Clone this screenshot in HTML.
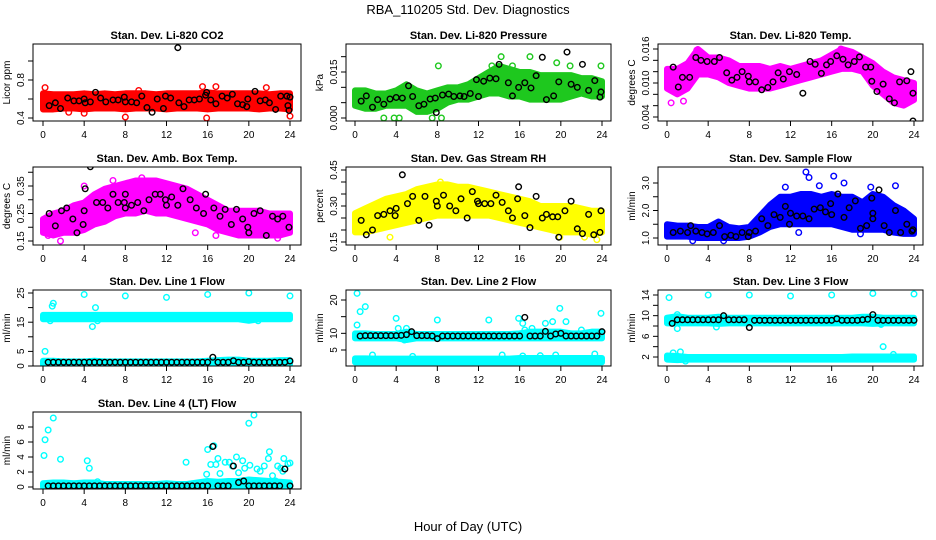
<!DOCTYPE html>
<html><head><meta charset="utf-8"><style>
body{margin:0;background:#fff}
svg{display:block;font-family:"Liberation Sans",Arial,sans-serif}
</style></head><body>
<svg id="c" width="936" height="540" viewBox="0 0 936 540">
<text x="468" y="14" text-anchor="middle" font-size="13">RBA_110205  Std. Dev. Diagnostics</text>
<text x="468" y="531" text-anchor="middle" font-size="13">Hour of Day (UTC)</text>
</svg>
<script>
const bandHours=[0,1,2,3,4,5,6,7,8,9,10,11,12,13,14,15,16,17,18,19,20,21,22,23,24];
const lineTimes=[0.5,1,1.5,2,2.5,3,3.5,4,4.5,5,5.5,6,6.5,7,7.5,8,8.5,9,9.5,10,10.5,11,11.5,12,12.5,13,13.5,14,14.5,15,15.5,16,16.5,17,17.5,18,18.5,19,19.5,20,20.5,21,21.5,22,22.5,23,23.5,24];
const xTicks=[0,4,8,12,16,20,24];

const co2Low=[0.49,0.49,0.5,0.5,0.49,0.5,0.5,0.5,0.49,0.5,0.5,0.5,0.49,0.5,0.5,0.5,0.49,0.5,0.5,0.5,0.5,0.49,0.5,0.5,0.49];
const co2High=[0.66,0.65,0.65,0.65,0.66,0.65,0.66,0.65,0.66,0.66,0.66,0.65,0.66,0.66,0.66,0.66,0.67,0.66,0.66,0.66,0.66,0.66,0.65,0.66,0.66];
const co2Out=[[0.2,0.72],[8,0.41],[15.9,0.4],[24,0.42],[15.5,0.73],[16.8,0.73],[2.5,0.46],[4,0.45],[21.7,0.72],[9.3,0.69]];
const co2Black=[[13.1,1.14],[0.6,0.53],[1.2,0.56],[1.7,0.5],[2.4,0.61],[3,0.58],[3.5,0.58],[4,0.6],[4.1,0.56],[4.6,0.57],[5.1,0.67],[5.6,0.61],[6.1,0.57],[6.8,0.59],[7.3,0.59],[7.9,0.62],[8,0.57],[8.6,0.57],[9.1,0.56],[9.6,0.63],[10.1,0.51],[10.6,0.46],[11.1,0.6],[11.7,0.5],[11.9,0.63],[12.4,0.61],[13.2,0.56],[13.7,0.52],[14.2,0.59],[14.7,0.59],[15.2,0.6],[15.8,0.64],[15.9,0.67],[16.3,0.59],[16.8,0.55],[17.4,0.63],[17.9,0.61],[18.4,0.65],[18.9,0.55],[19.4,0.54],[19.8,0.52],[19.9,0.6],[20.6,0.68],[21.1,0.58],[21.6,0.59],[22,0.56],[22.6,0.49],[23.1,0.63],[23.7,0.63],[23.8,0.53],[23.9,0.48],[24,0.62]];

const presLow=[0.004,0.003,0.003,0.004,0.004,0.004,0.002,0.002,0.003,0.005,0.006,0.006,0.007,0.008,0.008,0.007,0.007,0.006,0.006,0.006,0.006,0.007,0.008,0.007,0.007];
const presHigh=[0.009,0.009,0.008,0.008,0.009,0.011,0.009,0.008,0.009,0.01,0.01,0.011,0.013,0.015,0.017,0.016,0.015,0.015,0.014,0.014,0.014,0.014,0.013,0.013,0.012];
const presOut=[[2.8,0],[3.8,0],[4.3,0],[7.5,0],[8.4,0],[8.1,0.017],[14.2,0.02],[17,0.02],[19.6,0.018],[20.9,0.017],[23.9,0.017],[13.3,0.017],[15.3,0.017]];
const presBlack=[[0.6,0.0055],[1.1,0.0072],[1.7,0.0035],[2.2,0.006],[2.8,0.0045],[3.4,0.0062],[4,0.0067],[4.6,0.0065],[5.2,0.0105],[5.6,0.007],[6.2,0.004],[6.7,0.0045],[7.3,0.0062],[7.8,0.0065],[7.9,0.0018],[8.5,0.0075],[9.1,0.0078],[9.6,0.007],[10.2,0.0072],[10.6,0.007],[11.2,0.008],[11.8,0.0125],[12,0.007],[12.5,0.012],[13.1,0.013],[13.7,0.0128],[14,0.0175],[14.9,0.0115],[15.3,0.0072],[15.9,0.01],[16.5,0.0115],[17.1,0.0098],[17.6,0.0138],[18.2,0.0198],[18.6,0.006],[19.3,0.0072],[19.8,0.0118],[20.6,0.0215],[21,0.011],[21.6,0.01],[22.1,0.0175],[22.7,0.009],[23.3,0.0122],[23.8,0.0068],[23.9,0.0085]];

const tempLow=[0.009,0.008,0.009,0.0115,0.0115,0.011,0.01,0.0095,0.009,0.009,0.009,0.0095,0.01,0.0105,0.011,0.0115,0.012,0.0125,0.0125,0.012,0.0095,0.008,0.0065,0.006,0.007];
const tempHigh=[0.0125,0.0125,0.0135,0.016,0.0145,0.0145,0.014,0.013,0.013,0.013,0.0125,0.013,0.0125,0.013,0.0135,0.014,0.015,0.016,0.0155,0.0145,0.0135,0.012,0.011,0.0105,0.01];
const tempOut=[[0.4,0.0065],[1.6,0.0068],[2.9,0.0158],[16.9,0.016]];
const tempBlack=[[0.6,0.0128],[1.1,0.0093],[1.5,0.011],[2.2,0.011],[2.8,0.0145],[3.3,0.014],[3.9,0.0138],[4.6,0.0138],[5.1,0.0145],[5.8,0.0118],[6.3,0.0105],[6.8,0.011],[7.3,0.012],[7.9,0.0112],[8,0.0102],[8.6,0.0102],[9.2,0.0088],[9.8,0.0092],[10.3,0.0102],[10.8,0.0118],[11.3,0.0107],[11.9,0.012],[12.6,0.0115],[13.2,0.0082],[13.9,0.0138],[14.4,0.0133],[15,0.0117],[15.5,0.0132],[15.9,0.0138],[16.5,0.0148],[17.1,0.0142],[17.6,0.0132],[18.2,0.0138],[18.7,0.0146],[19.3,0.0128],[19.8,0.0128],[19.9,0.0103],[20.4,0.0085],[21,0.0098],[21.6,0.0072],[22.1,0.0065],[22.6,0.0102],[23.3,0.0104],[23.7,0.012],[23.9,0.0082],[23.9,0.0033],[23.8,0.0015]];

const boxLow=[0.18,0.17,0.18,0.18,0.19,0.21,0.22,0.24,0.25,0.25,0.26,0.25,0.25,0.24,0.23,0.22,0.21,0.19,0.18,0.17,0.17,0.17,0.17,0.17,0.18];
const boxHigh=[0.23,0.25,0.26,0.28,0.29,0.32,0.34,0.35,0.36,0.37,0.37,0.37,0.36,0.35,0.34,0.32,0.3,0.28,0.26,0.26,0.26,0.26,0.25,0.25,0.25];
const boxOut=[[1.7,0.15],[4,0.35],[0.5,0.17],[6.8,0.37],[9.6,0.38],[14.8,0.18],[16.8,0.17],[22.8,0.16]];
const boxBlack=[[0.6,0.25],[1.2,0.205],[1.8,0.26],[2.3,0.27],[2.9,0.23],[3.3,0.18],[3.9,0.21],[4,0.26],[4.1,0.34],[4.6,0.42],[5.2,0.29],[5.8,0.29],[6.3,0.27],[6.8,0.32],[7.3,0.29],[7.9,0.29],[8,0.32],[8,0.27],[8.6,0.28],[9.2,0.29],[9.8,0.26],[10.3,0.3],[10.9,0.32],[11.4,0.32],[11.9,0.3],[12,0.28],[12.5,0.31],[13.1,0.28],[13.6,0.34],[14.3,0.3],[14.9,0.27],[15.6,0.25],[15.8,0.32],[16.6,0.27],[17.2,0.24],[17.7,0.265],[18.3,0.21],[18.8,0.265],[19.4,0.23],[19.9,0.2],[20,0.18],[20.5,0.25],[21.1,0.26],[21.7,0.17],[22.3,0.24],[22.8,0.23],[23.3,0.24],[23.9,0.2]];

const rhLow=[0.19,0.19,0.2,0.21,0.22,0.23,0.24,0.25,0.26,0.26,0.26,0.26,0.26,0.26,0.25,0.24,0.23,0.22,0.21,0.2,0.19,0.19,0.19,0.18,0.19];
const rhHigh=[0.27,0.29,0.31,0.33,0.34,0.35,0.37,0.38,0.39,0.39,0.38,0.38,0.37,0.36,0.35,0.34,0.33,0.32,0.3,0.3,0.3,0.3,0.29,0.28,0.28];
const rhOut=[[3.4,0.17],[8.3,0.4],[22.3,0.17],[23.5,0.16],[19.9,0.17]];
const rhBlack=[[0.6,0.24],[1.1,0.18],[1.7,0.2],[2.2,0.26],[2.8,0.265],[3.4,0.28],[3.9,0.26],[4,0.29],[4.6,0.43],[5.1,0.31],[5.6,0.34],[6.2,0.24],[6.8,0.34],[7.2,0.22],[7.9,0.32],[8,0.3],[8.6,0.345],[9.2,0.3],[9.8,0.28],[10.3,0.33],[10.9,0.25],[11.4,0.36],[11.9,0.32],[12,0.31],[12.6,0.31],[13.2,0.31],[13.7,0.345],[14.3,0.315],[14.9,0.28],[15.3,0.25],[15.8,0.33],[15.9,0.38],[16.5,0.26],[17,0.21],[17.6,0.34],[18.2,0.25],[18.6,0.265],[19.2,0.255],[19.7,0.255],[19.8,0.17],[20.4,0.28],[21,0.32],[21.6,0.205],[22.1,0.185],[22.7,0.265],[23.2,0.18],[23.8,0.19],[23.9,0.28]];

const flowLow=[1.05,1.05,1.05,1,1,1,1,1,1.05,1.2,1.4,1.5,1.5,1.5,1.5,1.5,1.5,1.4,1.3,1.3,1.3,1.3,1.2,1.15,1.15];
const flowHigh=[1.5,1.45,1.45,1.4,1.4,1.6,1.4,1.35,1.4,1.8,2.2,2.5,2.5,2.6,2.6,2.5,2.6,2.5,2.5,2.3,2.6,2.5,2.2,2,1.7];
const flowOut=[[13.5,3.4],[13.8,3.2],[16.2,3.25],[17.2,3],[22.2,2.9],[14.8,2.9],[11.5,2.85],[19.8,2.85],[2.5,0.9],[5.5,0.9],[18.8,1.15],[12.8,1.2]];
const flowBlack=[[0.6,1.2],[1.3,1.25],[2,1.2],[2.3,1.45],[2.8,1.25],[3.4,1.2],[3.9,1.15],[4.5,1.2],[5.1,1.45],[5.6,1.05],[6.2,1.1],[6.7,1.05],[7.3,1.2],[7.9,1.05],[8,1.2],[8.6,1.25],[9.2,1.7],[9.8,1.45],[10.4,1.85],[11,1.75],[11.5,2.15],[11.9,1.5],[12,1.9],[12.6,1.8],[13.2,1.8],[13.8,1.7],[14.3,2.05],[14.9,2.1],[15.4,1.95],[15.9,2.25],[16,1.85],[16.6,2.6],[17.2,1.75],[17.7,2.1],[18.3,2.35],[18.8,1.35],[19.4,1.45],[19.9,2.45],[20,1.9],[20,1.7],[20.6,2.75],[21.1,1.45],[21.6,1.2],[22.2,2],[22.7,1.2],[23.3,1.5],[23.8,1.25],[23.9,1.3]];

const l1UpLow=[16,16,16,16,16,16,16,16,16,16,16,16,16,16,16,16,16,16,16,16,15.5,16,16,16,16];
const l1UpHigh=[17.5,17.5,17.5,17.5,17.5,17.5,17.5,17.5,17.5,17.5,17.5,17.5,17.5,17.5,17.5,17.5,17.5,17.5,17.5,17.5,17.5,17.5,17.5,17.5,17.5];
const l1LoLow=[0.5,0.5,0.5,0.5,0.5,0.5,0.5,0.5,0.5,0.5,0.5,0.5,0.5,0.5,0.5,0.5,0.5,0.5,0.5,0.5,0.5,0.5,0.5,0.5,0.5];
const l1LoHigh=[1.8,1.8,1.6,1.6,1.6,1.8,1.6,1.6,1.6,1.6,1.6,1.6,1.6,1.6,1.6,1.6,1.8,2,2.2,2.2,1.8,1.8,1.8,2,2];
const l1Out=[[0.2,5],[0.7,15.5],[0.9,20.5],[1,21.5],[4,24.5],[8,24],[12,23.5],[16,24.5],[20,25],[24,24],[4.8,13.5],[5.1,20],[5.3,15.5],[20.9,15.5]];
const l1Black=[1.3,1.3,1.3,1.3,1.3,1.3,1.3,1.3,1.3,1.3,1.3,1.3,1.3,1.3,1.3,1.3,1.3,1.3,1.3,1.3,1.3,1.3,1.3,1.3,1.3,1.3,1.3,1.3,1.3,1.3,1.3,1.3,3,1.3,1.3,1.3,1.8,1.3,1.3,1.5,1.3,1.3,1.3,1.3,1.3,1.3,1.3,1.7];

const l2UpLow=[8.5,8.5,8.5,8.5,8.5,8,8.5,8.5,8.5,8.5,8.5,8.5,8.5,8.5,8.5,8.5,8.5,8.5,8.5,8.5,8.5,8.5,8.5,8.5,8.5];
const l2UpHigh=[10,10,9.8,9.8,9.8,10.5,9.8,9.8,9.8,9.8,9.8,9.8,9.8,9.8,9.8,9.8,10,10.5,10.5,10.5,10.5,10,10,10.5,10.5];
const l2LoLow=[1.3,1.3,1.3,1.3,1.3,1.3,1.3,1.3,1.3,1.3,1.3,1.3,1.3,1.3,1.3,1.3,1.3,1.3,1.3,1.3,1.3,1.3,1.3,1.3,1.3];
const l2LoHigh=[2.5,2.5,2.4,2.4,2.4,2.4,2.4,2.4,2.4,2.4,2.4,2.4,2.4,2.4,2.4,2.4,2.6,2.6,2.6,2.6,2.6,2.6,2.6,2.6,2.6];
const l2Out=[[0.2,22],[0.2,12.5],[0.5,16.5],[1,18],[4,14.5],[4.2,11.5],[4.8,8],[5,11.5],[8,14],[13,14],[15.9,14.5],[16.3,13],[16.5,11],[17.2,11.5],[18.5,13],[19.2,13.5],[19.9,17.5],[20.5,13.5],[22,11],[23.9,16],[1.7,3.5],[5.6,3.1],[14.3,3.5],[16.3,3.2],[18,3.3],[19.5,3.5],[23.3,3.8]];
const l2Black=[9.2,9.3,9.3,9.3,9.3,9.3,9.3,9.3,9.4,9.6,10.5,9.3,9.3,9.3,9.2,8.4,9.2,9.2,9.2,9.2,9.2,9.2,9.2,9.2,9.2,9.2,9.2,9.2,9.2,9.2,9.2,9.2,14.8,9.2,9.2,9.2,10.6,9.2,9.8,10,9.2,9.2,9.2,9.2,9.2,9.2,9.2,10.5];

const l3UpLow=[8.5,8.5,8.5,8.5,8.5,8.4,8.5,8.5,8.5,8.5,8.5,8.5,8.5,8.5,8.5,8.5,8.5,8.5,8.5,8.5,8.4,8.5,8.5,8.5,8.5];
const l3UpHigh=[9.6,9.9,9.6,9.6,9.6,9.8,9.6,9.6,9.6,9.6,9.6,9.6,9.6,9.6,9.6,9.6,9.6,9.6,9.6,9.8,9.8,9.6,9.6,9.6,9.6];
const l3LoLow=[1.5,1.4,1.5,1.5,1.5,1.5,1.5,1.5,1.5,1.5,1.5,1.5,1.5,1.5,1.5,1.5,1.5,1.5,1.5,1.5,1.5,1.5,1.5,1.5,1.5];
const l3LoHigh=[2.3,2.2,2,2,2,2,2,2,2,2,2,2,2,2,2,2,2,2,2.1,2.1,2.1,2.1,2.1,2.1,2.1];
const l3Out=[[0.2,13.5],[4,14],[8,14],[12,13.8],[16,14],[20,14.3],[24,14.2],[1,10.2],[1,7.5],[4.8,7.8],[1.3,3],[0.6,2.8],[21,4],[20.8,8.3],[22,2.5],[1.8,1.2]];
const l3Black=[8.5,9.2,9.2,9.2,9.2,9.2,9.2,9.2,9.2,9.2,10,9.2,9.2,9.2,9.2,7.7,9.1,9.1,9.1,9.1,9.1,9.1,9.1,9.1,9.1,9.1,9.1,9.1,9.1,9.1,9.1,9.1,9.4,9.1,9.1,9.1,9.1,9.2,9.3,10.2,9.1,9.1,9.1,9.1,9.1,9.1,9.1,9.1];

const l4LoLow=[0,0,0,0,0,0,0,0,0,0,0,0,0,0,0,0,0,0,0,0,0,0,0,0,0];
const l4LoHigh=[0.5,0.6,0.6,0.5,0.6,0.6,0.4,0.4,0.4,0.4,0.4,0.4,0.5,0.4,0.4,0.6,0.8,0.7,0.8,0.8,1,0.9,0.8,0.7,0.6];
const l4Out=[[0.1,4.2],[0.2,6.3],[0.5,7.6],[1,9.2],[1.7,3.7],[4.3,3.5],[4.5,2.5],[5.3,0.7],[13.9,3.3],[15.9,1.7],[16,5],[16.3,3],[16.6,5.5],[16.8,3],[17,3.8],[17.2,1.8],[17.7,3.3],[18.1,3.3],[18.4,2.8],[18.8,4],[19,1.9],[19.4,3.5],[19.6,2.5],[20,8.5],[20.1,2.9],[20.5,9.6],[20.8,2.4],[21.1,2.1],[21.5,2.8],[21.9,3.8],[22,4.7],[22.3,1.5],[22.6,0.8],[22.8,2.8],[23.1,2.5],[23.3,2.1],[23.4,3.8],[23.8,3.1],[24,3.2]];
const l4Black=[0.15,0.15,0.15,0.15,0.15,0.15,0.15,0.15,0.15,0.15,0.15,0.15,0.15,0.15,0.15,0.15,0.15,0.15,0.15,0.15,0.15,0.15,0.15,0.15,0.15,0.15,0.15,0.15,0.15,0.15,0.15,0.15,5.4,0.15,0.15,0.15,2.8,0.6,0.8,0.15,0.15,0.15,0.15,0.15,0.15,0.15,2.4,0.15];

const NS='http://www.w3.org/2000/svg';
const svg=document.getElementById('c');
function mk(tag,attrs,parent){const e=document.createElementNS(NS,tag);for(const k in attrs)e.setAttribute(k,attrs[k]);(parent||svg).appendChild(e);return e;}

const cols=[{l:33,r:301,x0:43,x1:290},{l:346,r:611,x0:355,x1:602},{l:658,r:923,x0:667,x1:914}];
const rows=[{t:44,b:121},{t:167,b:245},{t:290,b:366},{t:412,b:489}];

function panel(cfg){
  const c=cols[cfg.col],r=rows[cfg.row];
  const g=mk('g',{});
  
  
  const xs=t=>c.x0+(t/24)*(c.x1-c.x0);
  const ys=v=>cfg.p0+(v-cfg.v0)*(cfg.p1-cfg.p0)/(cfg.v1-cfg.v0);
  const cp='cp'+cfg.name;
  const defs=mk('defs',{},g);const clip=mk('clipPath',{id:cp},defs);mk('rect',{x:c.l,y:r.t,width:c.r-c.l,height:r.b-r.t},clip);
  const pg=mk('g',{'clip-path':'url(#'+cp+')'},g);
  (cfg.bands||[]).forEach(b=>{
    let pts=bandHours.map((h,i)=>xs(h)+','+ys(b[1][i]));
    pts=pts.concat(bandHours.slice().reverse().map((h,j)=>{const i=bandHours.length-1-j;return xs(h)+','+ys(b[0][i]);}));
    const p=mk('polygon',{points:pts.join(' '),fill:cfg.color,stroke:cfg.color,'stroke-width':6,'stroke-linejoin':'round'},pg);
    
    
  });
  (cfg.out||[]).forEach(d=>{
    const e=mk('circle',{cx:xs(d[0]),cy:ys(d[1]),r:2.8,fill:'none',stroke:cfg.color,'stroke-width':1.4},pg);
    
    
  });
  const black=cfg.black||lineTimes.map((t,i)=>[t,cfg.blackVals[i]]);
  black.forEach(d=>{
    const e=mk('circle',{cx:xs(d[0]),cy:ys(d[1]),r:2.8,fill:'none',stroke:'#000','stroke-width':1.4},pg);
    
    
  });
  const box=mk('rect',{x:c.l,y:r.t,width:c.r-c.l,height:r.b-r.t,fill:'none',stroke:'#000','stroke-width':1},g);
  
  
  const tt=mk('text',{x:(c.l+c.r)/2,y:r.t-5,'text-anchor':'middle','font-size':11,'font-weight':'bold'},g);tt.textContent=cfg.title;
  
  
  // x axis
  mk('line',{x1:c.x0,y1:r.b,x2:c.x1,y2:r.b,stroke:'#000'},g);
  xTicks.forEach(t=>{mk('line',{x1:xs(t),y1:r.b,x2:xs(t),y2:r.b+5,stroke:'#000'},g);
    const l=mk('text',{x:xs(t),y:r.b+17,'text-anchor':'middle','font-size':10},g);l.textContent=t;
    
    });
  // y axis
  const yt=cfg.ticks;
  mk('line',{x1:c.l,y1:ys(yt[0]),x2:c.l,y2:ys(yt[yt.length-1]),stroke:'#000'},g);
  yt.forEach(v=>{mk('line',{x1:c.l-5,y1:ys(v),x2:c.l,y2:ys(v),stroke:'#000'},g);});
  cfg.labels.forEach(lb=>{const y=ys(lb[0]);const l=mk('text',{x:c.l-9,y:y,'text-anchor':'middle','font-size':10,transform:'rotate(-90 '+(c.l-9)+' '+y+')'},g);l.textContent=lb[1];
    
    });
  const my=(r.t+r.b)/2;const yl=mk('text',{x:c.l-23,y:my,'text-anchor':'middle','font-size':10,transform:'rotate(-90 '+(c.l-23)+' '+my+')'},g);yl.textContent=cfg.ylab;
  
  
}

panel({name:'panel-co2',col:0,row:0,title:'Stan. Dev. Li-820 CO2',ylab:'Licor ppm',color:'#ff0000',v0:0.4,p0:118,v1:0.8,p1:80,ticks:[0.4,0.6,0.8,1.0],labels:[[0.4,'0.4'],[0.8,'0.8']],bands:[[co2Low,co2High]],out:co2Out,black:co2Black});
panel({name:'panel-pressure',col:1,row:0,title:'Stan. Dev. Li-820 Pressure',ylab:'kPa',color:'#1ec81e',v0:0,p0:118,v1:0.015,p1:72,ticks:[0,0.005,0.01,0.015,0.02],labels:[[0,'0.000'],[0.015,'0.015']],bands:[[presLow,presHigh]],out:presOut,black:presBlack});
panel({name:'panel-li-temp',col:2,row:0,title:'Stan. Dev. Li-820 Temp.',ylab:'degrees C',color:'#ff00ff',v0:0.004,p0:117,v1:0.016,p1:49,ticks:[0.004,0.006,0.008,0.01,0.012,0.014,0.016],labels:[[0.004,'0.004'],[0.01,'0.010'],[0.016,'0.016']],bands:[[tempLow,tempHigh]],out:tempOut,black:tempBlack});
panel({name:'panel-box-temp',col:0,row:1,title:'Stan. Dev. Amb. Box Temp.',ylab:'degrees C',color:'#ff00ff',v0:0.15,p0:241,v1:0.35,p1:186,ticks:[0.15,0.2,0.25,0.3,0.35,0.4],labels:[[0.15,'0.15'],[0.25,'0.25'],[0.35,'0.35']],bands:[[boxLow,boxHigh]],out:boxOut,black:boxBlack});
panel({name:'panel-rh',col:1,row:1,title:'Stan. Dev. Gas Stream RH',ylab:'percent',color:'#ffff00',v0:0.15,p0:242,v1:0.45,p1:170,ticks:[0.15,0.2,0.25,0.3,0.35,0.4,0.45],labels:[[0.15,'0.15'],[0.3,'0.30'],[0.45,'0.45']],bands:[[rhLow,rhHigh]],out:rhOut,black:rhBlack});
panel({name:'panel-sample-flow',col:2,row:1,title:'Stan. Dev. Sample Flow',ylab:'ml/min',color:'#0000ff',v0:1,p0:238,v1:3,p1:183,ticks:[1,1.5,2,2.5,3],labels:[[1,'1.0'],[2,'2.0'],[3,'3.0']],bands:[[flowLow,flowHigh]],out:flowOut,black:flowBlack});
panel({name:'panel-line1',col:0,row:2,title:'Stan. Dev. Line 1 Flow',ylab:'ml/min',color:'#00ffff',v0:0,p0:366,v1:25,p1:293,ticks:[0,5,10,15,20,25],labels:[[0,'0'],[5,'5'],[15,'15'],[25,'25']],bands:[[l1UpLow,l1UpHigh],[l1LoLow,l1LoHigh]],out:l1Out,blackVals:l1Black});
panel({name:'panel-line2',col:1,row:2,title:'Stan. Dev. Line 2 Flow',ylab:'ml/min',color:'#00ffff',v0:5,p0:350,v1:20,p1:300,ticks:[5,10,15,20],labels:[[5,'5'],[10,'10'],[20,'20']],bands:[[l2UpLow,l2UpHigh],[l2LoLow,l2LoHigh]],out:l2Out,blackVals:l2Black});
panel({name:'panel-line3',col:2,row:2,title:'Stan. Dev. Line 3 Flow',ylab:'ml/min',color:'#00ffff',v0:2,p0:357,v1:14,p1:295,ticks:[2,4,6,8,10,12,14],labels:[[2,'2'],[6,'6'],[10,'10'],[14,'14']],bands:[[l3UpLow,l3UpHigh],[l3LoLow,l3LoHigh]],out:l3Out,blackVals:l3Black});
panel({name:'panel-line4',col:0,row:3,title:'Stan. Dev. Line 4 (LT) Flow',ylab:'ml/min',color:'#00ffff',v0:0,p0:487,v1:8,p1:427,ticks:[0,2,4,6,8],labels:[[0,'0'],[2,'2'],[4,'4'],[6,'6'],[8,'8']],bands:[[l4LoLow,l4LoHigh]],out:l4Out,blackVals:l4Black});
</script>
</body></html>
